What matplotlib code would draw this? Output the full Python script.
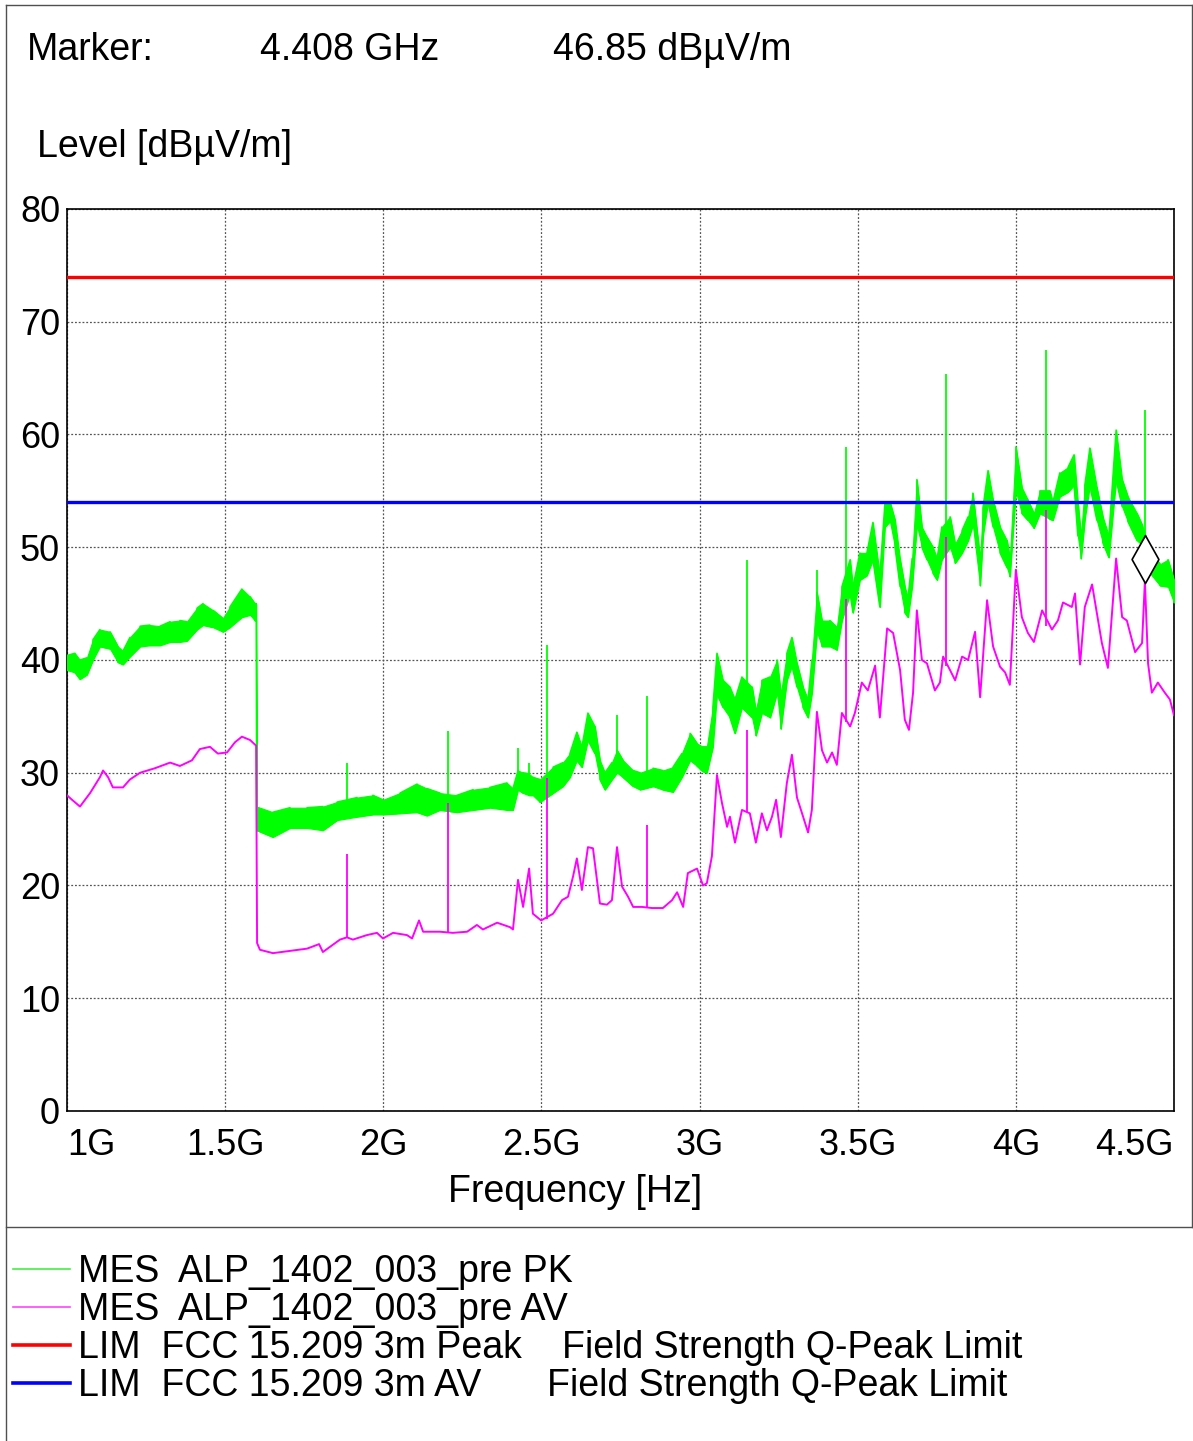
import numpy as np
import matplotlib.pyplot as plt
from matplotlib.lines import Line2D
from matplotlib.path import Path

plt.rcParams['font.family'] = ['Liberation Sans', 'DejaVu Sans']

# ---- data (frequency in MHz, level in dBuV/m) ----
pk_f = [1000, 1025, 1041, 1063, 1082, 1104, 1136, 1161, 1177, 1199, 1231, 1262, 1294, 1326,
        1357, 1379, 1411, 1430, 1462, 1493, 1515, 1553, 1579, 1594, 1598,
        1600, 1651, 1705, 1759, 1809, 1854, 1917, 1967, 1999, 2053, 2107, 2138, 2179, 2233,
        2284, 2337, 2391, 2410, 2426, 2442, 2461, 2473, 2495, 2537, 2568, 2590, 2612, 2628,
        2647, 2669, 2685, 2701, 2723, 2739, 2758, 2790, 2812, 2853, 2884, 2916, 2944, 2970,
        2992, 3011, 3023, 3042, 3055, 3074, 3096, 3112, 3134, 3166, 3178, 3197, 3223, 3245,
        3257, 3276, 3292, 3308, 3327, 3343, 3355, 3371, 3387, 3412, 3434, 3450, 3476, 3485,
        3507, 3529, 3548, 3570, 3586, 3602, 3618, 3634, 3649, 3659, 3672, 3687, 3703, 3719,
        3738, 3751, 3766, 3792, 3808, 3830, 3849, 3864, 3887, 3896, 3912, 3928, 3950, 3972,
        3981, 4000, 4019, 4038, 4057, 4076, 4108, 4117, 4139, 4165, 4184, 4196, 4206, 4218,
        4234, 4256, 4275, 4294, 4317, 4336, 4354, 4383, 4399, 4424, 4456, 4481, 4500]
pk_hi = [40.4, 40.6, 40.0, 40.2, 41.8, 42.7, 42.5, 41.2, 40.8, 42.0, 43.0, 43.1, 43.0, 43.4,
         43.5, 43.4, 44.6, 45.0, 44.4, 43.7, 44.7, 46.3, 45.6, 45.0, 45.0,
         27.0, 26.5, 26.9, 26.9, 27.0, 27.4, 27.8, 28.0, 27.6, 28.2, 29.0, 28.6, 28.2, 28.0,
         28.5, 28.7, 29.1, 28.6, 30.2, 30.0, 29.9, 29.6, 29.4, 30.5, 30.9, 31.7, 33.6, 32.3,
         35.3, 34.1, 31.1, 30.0, 30.9, 32.0, 31.1, 30.2, 30.0, 30.4, 30.2, 30.5, 31.7, 33.5,
         32.6, 32.3, 32.3, 35.8, 40.6, 38.2, 37.6, 36.5, 38.5, 37.6, 35.5, 38.2, 38.5, 40.0,
         37.0, 40.6, 42.0, 39.7, 37.6, 36.5, 40.0, 46.0, 43.5, 43.5, 42.9, 46.5, 48.9, 46.5,
         49.5, 49.5, 52.2, 47.5, 53.9, 54.0, 52.4, 48.9, 46.5, 45.5, 49.0, 56.0, 51.8, 50.9,
         50.0, 49.0, 51.8, 52.7, 50.3, 51.5, 52.7, 54.8, 49.0, 53.5, 56.8, 54.2, 51.8, 50.6,
         49.0, 58.9, 55.3, 54.2, 53.0, 55.0, 55.0, 54.0, 56.6, 57.1, 58.2, 54.0, 51.0, 55.5,
         58.8, 55.3, 52.7, 51.0, 60.4, 56.0, 54.5, 53.0, 52.0, 49.8, 48.5, 48.9, 47.1]
pk_lo = [39.1, 38.9, 38.3, 38.7, 40.0, 41.2, 41.0, 39.8, 39.6, 40.3, 41.2, 41.3, 41.3, 41.6,
         41.6, 41.7, 42.7, 43.1, 42.9, 42.5, 42.9, 43.8, 44.0, 43.5, 43.5,
         24.9, 24.3, 25.1, 25.1, 24.9, 25.8, 26.1, 26.3, 26.3, 26.4, 26.5, 26.2, 26.7, 26.5,
         26.7, 26.9, 26.7, 26.7, 28.5, 28.2, 28.0, 28.0, 27.4, 28.2, 28.8, 29.6, 31.1, 30.5,
         32.9, 31.7, 29.4, 28.5, 29.4, 30.0, 29.6, 28.8, 28.5, 28.8, 28.5, 28.3, 29.6, 31.1,
         30.6, 30.1, 30.0, 32.3, 37.0, 35.8, 34.9, 33.5, 35.8, 34.9, 33.3, 35.3, 34.9, 37.1,
         33.9, 38.2, 39.5, 37.6, 35.8, 34.9, 37.0, 42.5, 41.2, 41.2, 40.9, 43.5, 45.9, 44.2,
         47.1, 47.5, 48.9, 44.7, 51.8, 52.3, 50.0, 46.5, 44.2, 43.8, 46.5, 52.0, 50.0, 48.9,
         47.7, 47.1, 48.9, 50.0, 48.6, 49.5, 50.6, 52.0, 46.6, 51.0, 54.0, 51.8, 49.5, 48.2,
         47.4, 55.0, 53.0, 52.4, 51.7, 53.0, 52.5, 52.4, 54.5, 54.9, 55.5, 51.0, 49.0, 52.5,
         55.5, 52.4, 50.4, 49.1, 56.0, 53.6, 52.3, 50.6, 50.2, 47.7, 46.6, 46.5, 45.1]
pk_spike_f = [1885, 2205, 2426, 2461, 2518, 2739, 2834, 3150, 3371, 3463, 3779, 4095, 4408]
pk_spike_base = [27.0, 27.5, 29.5, 29.0, 29.0, 30.5, 29.5, 36.5, 43.0, 46.0, 51.0, 54.0, 51.0]
pk_spike_top = [30.9, 33.7, 32.2, 30.9, 41.3, 35.1, 36.8, 48.9, 48.0, 58.9, 65.4, 67.5, 62.2]

av_f = [1000, 1016, 1041, 1057, 1073, 1104, 1114, 1130, 1145, 1177, 1199, 1231, 1278, 1326,
        1357, 1395, 1420, 1452, 1477, 1506, 1531, 1553, 1579, 1598,
        1601, 1610, 1651, 1705, 1759, 1797, 1809, 1863, 1885, 1904, 1948, 1980, 1999, 2031,
        2075, 2091, 2113, 2126, 2179, 2220, 2265, 2296, 2315, 2360, 2401, 2410, 2426, 2442,
        2461, 2473, 2499, 2537, 2565, 2584, 2600, 2612, 2628, 2647, 2663, 2685, 2707, 2723,
        2739, 2755, 2774, 2790, 2818, 2850, 2884, 2913, 2929, 2948, 2963, 2992, 3011, 3023,
        3039, 3055, 3071, 3087, 3096, 3112, 3134, 3159, 3178, 3197, 3213, 3229, 3242, 3257,
        3276, 3292, 3308, 3324, 3343, 3355, 3371, 3387, 3403, 3419, 3434, 3450, 3476, 3491,
        3513, 3532, 3555, 3570, 3593, 3612, 3634, 3649, 3662, 3675, 3687, 3703, 3719, 3744,
        3760, 3770, 3792, 3808, 3830, 3849, 3871, 3887, 3909, 3928, 3950, 3966, 3981, 4000,
        4019, 4038, 4057, 4083, 4114, 4133, 4149, 4177, 4187, 4203, 4218, 4241, 4256, 4272,
        4291, 4317, 4336, 4351, 4377, 4399, 4408, 4418, 4430, 4449, 4471, 4487, 4500]
av_lvl = [28.0, 27.6, 27.0, 27.6, 28.2, 29.6, 30.2, 29.6, 28.7, 28.7, 29.4, 30.0, 30.4, 30.9,
          30.6, 31.1, 32.1, 32.3, 31.7, 31.8, 32.7, 33.2, 32.9, 32.4,
          14.9, 14.3, 14.0, 14.2, 14.4, 14.8, 14.1, 15.2, 15.4, 15.2, 15.6, 15.8, 15.3, 15.8,
          15.6, 15.3, 16.9, 15.9, 15.9, 15.8, 15.9, 16.5, 16.1, 16.7, 16.3, 16.1, 20.5, 18.1,
          21.5, 17.5, 16.9, 17.5, 18.7, 19.0, 20.8, 22.4, 19.6, 23.4, 23.3, 18.4, 18.3, 18.7,
          23.4, 19.9, 19.0, 18.1, 18.1, 18.0, 18.0, 18.7, 19.4, 18.1, 21.1, 21.5, 20.0, 20.2,
          22.6, 29.8, 27.3, 25.2, 26.1, 23.8, 26.7, 26.4, 23.8, 26.4, 24.9, 26.1, 27.6, 24.3,
          29.1, 31.6, 27.8, 26.4, 24.7, 26.7, 35.4, 32.0, 30.9, 31.8, 30.7, 35.3, 34.1, 35.3,
          38.0, 37.3, 39.5, 34.9, 42.8, 42.4, 39.1, 34.7, 33.8, 37.1, 44.4, 40.0, 39.7, 37.3,
          38.0, 40.3, 39.1, 38.2, 40.3, 40.0, 42.5, 36.7, 45.3, 41.2, 39.4, 38.9, 37.8, 48.0,
          43.8, 42.4, 41.6, 44.4, 42.7, 43.5, 45.1, 44.7, 45.9, 39.6, 44.7, 46.7, 44.2, 41.5,
          39.3, 49.0, 43.8, 43.5, 40.7, 41.5, 47.0, 39.7, 37.1, 38.0, 37.1, 36.5, 35.1]
av_spike_f = [1885, 2205, 2518, 2834, 3150, 3463, 3779, 4095]
av_spike_base = [15.4, 15.9, 17.0, 18.0, 26.5, 34.5, 39.5, 43.0]
av_spike_top = [22.8, 27.3, 29.5, 25.4, 33.8, 45.4, 50.9, 53.3]

lim_pk = 74
lim_av = 54
marker_f = 4408
marker_lvl = 46.85

x_ticks = [1000, 1500, 2000, 2500, 3000, 3500, 4000, 4500]
x_ticklabels = ['1G', '1.5G', '2G', '2.5G', '3G', '3.5G', '4G', '4.5G']
y_ticks = [0, 10, 20, 30, 40, 50, 60, 70, 80]

GREEN = '#00ff00'
MAGENTA = '#ff00ff'

W, H = 1193, 1441
fig = plt.figure(figsize=(W / 100, H / 100), dpi=100)
ax = fig.add_axes([67 / W, 1 - 1111 / H, 1107 / W, 902 / H])

# peak trace: band between the read min/max, plus a zig-zag through the same readings
ax.fill_between(pk_f, pk_lo, pk_hi, color=GREEN, lw=0.8, zorder=3)
zig_f = np.repeat(pk_f, 2)
zig_v = np.column_stack((pk_lo, pk_hi)).ravel()
zig_v[2::4] = np.array(pk_hi)[1::2]
zig_v[3::4] = np.array(pk_lo)[1::2]
ax.plot(zig_f, zig_v, color=GREEN, lw=1.1, zorder=3)
ax.vlines(pk_spike_f, pk_spike_base, pk_spike_top, color=GREEN, lw=1.3, zorder=3)

# average trace
ax.plot(av_f, av_lvl, color=MAGENTA, lw=1.4, zorder=4)
ax.vlines(av_spike_f, av_spike_base, av_spike_top, color=MAGENTA, lw=1.3, zorder=4)

ax.axhline(lim_pk, color='#ff0000', lw=2.4, zorder=5)
ax.axhline(lim_av, color='#0000ff', lw=2.4, zorder=5)

# marker diamond, bottom tip on the marker level
diamond = Path([(0, 0), (0.56, 1), (0, 2), (-0.56, 1), (0, 0)],
               [Path.MOVETO, Path.LINETO, Path.LINETO, Path.LINETO, Path.CLOSEPOLY])
ax.plot([marker_f], [marker_lvl], marker=diamond, markersize=69, mfc='white',
        mec='black', mew=1.2, zorder=6)

ax.set_xlim(1000, 4500)
ax.set_ylim(0, 80)
ax.set_xticks(x_ticks)
ax.set_xticklabels(x_ticklabels)
ax.set_yticks(y_ticks)
ax.tick_params(length=0, labelsize=26)
ax.tick_params(axis='x', pad=12)
ax.tick_params(axis='y', pad=5)
lbls = ax.get_xticklabels()
lbls[0].set_ha('left')
lbls[-1].set_ha('right')
ax.grid(True, color='#555555', lw=0.9, ls=(0, (1.5, 1.5)))
for s in ax.spines.values():
    s.set_linewidth(1.2)

fs = 27
fig.text(27 / W, 1 - 60 / H, 'Marker:', fontsize=fs, va='baseline')
fig.text(260 / W, 1 - 60 / H, '4.408 GHz', fontsize=fs, va='baseline')
fig.text(553 / W, 1 - 60 / H, '46.85 dBµV/m', fontsize=fs, va='baseline')
fig.text(37 / W, 1 - 157 / H, 'Level [dBµV/m]', fontsize=fs, va='baseline')
fig.text(575 / W, 1 - 1202 / H, 'Frequency [Hz]', fontsize=fs, va='baseline', ha='center')

# frame
fc = '#505050'
fig.add_artist(Line2D([6 / W, 6 / W], [0, 1 - 5 / H], color=fc, lw=1))
fig.add_artist(Line2D([6 / W, 1192 / W], [1 - 5 / H, 1 - 5 / H], color=fc, lw=1))
fig.add_artist(Line2D([1192 / W, 1192 / W], [1 - 5 / H, 1 - 1227 / H], color=fc, lw=1))
fig.add_artist(Line2D([6 / W, 1], [1 - 1227 / H, 1 - 1227 / H], color=fc, lw=1))

# legend
leg_labels = ['MES  ALP_1402_003_pre PK', 'MES  ALP_1402_003_pre AV',
              'LIM  FCC 15.209 3m Peak', 'LIM  FCC 15.209 3m AV']
leg_extra = ['', '', 'Field Strength Q-Peak Limit', 'Field Strength Q-Peak Limit']
leg_colors = ['#44ee44', '#ff44ff', '#ff0000', '#0000ff']
leg_lw = [1.2, 1.2, 2.6, 2.6]
extra_x = [0, 0, 562, 547]
for i in range(4):
    base = 1282 + 38 * i
    yl = 1 - (base - 13) / H
    fig.add_artist(Line2D([13 / W, 70 / W], [yl, yl], color=leg_colors[i], lw=leg_lw[i]))
    fig.text(78 / W, 1 - base / H, leg_labels[i], fontsize=fs, va='baseline')
    if leg_extra[i]:
        fig.text(extra_x[i] / W, 1 - base / H, leg_extra[i], fontsize=fs, va='baseline')

fig.savefig('out.png', dpi=100)
